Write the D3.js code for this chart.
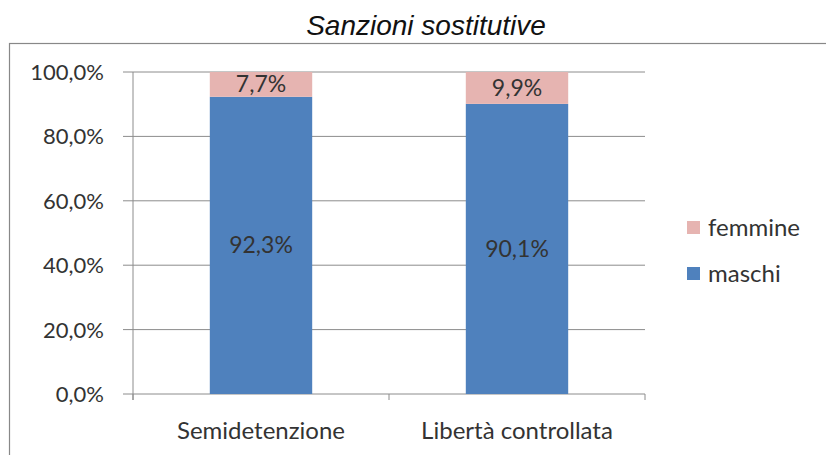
<!DOCTYPE html>
<html><head><meta charset="utf-8">
<script src="https://cdn.jsdelivr.net/npm/d3@7"></script>
<style>body{margin:0;background:#fff}</style>
</head><body>
<svg id="c" width="826" height="455"></svg>
<script>
const categories = ["Semidetenzione", "Libertà controllata"];
const maschi = [92.3, 90.1];
const femmine = [7.7, 9.9];
const seriesNames = ["maschi", "femmine"];
const yTicks = [0, 20, 40, 60, 80, 100];
const colors = {maschi: "#4F81BD", femmine: "#E6B4B1"};
const fmt = v => d3.format(".1f")(v).replace(".", ",") + "%";

const svg = d3.select("#c");
const font = "Lato, 'Open Sans', sans-serif";

// border
svg.append("rect").attr("x", 9.5).attr("y", 43.5).attr("width", 830).attr("height", 420)
  .attr("fill", "none").attr("stroke", "#888").attr("stroke-width", 1.2);

svg.append("text").attr("x", 426).attr("y", 35).attr("text-anchor", "middle")
  .attr("font-family", "'Liberation Sans', Arial, sans-serif").attr("font-style", "italic")
  .attr("font-size", 28).attr("fill", "#111").text("Sanzioni sostitutive");

const x0 = 133, x1 = 645, yTop = 72, yBot = 394;
const x = d3.scaleBand().domain(categories).range([x0, x1]).paddingInner(0.6).paddingOuter(0.3);
const y = d3.scaleLinear().domain([0, 100]).range([yBot, yTop]);

// gridlines
const g = svg.append("g");
g.selectAll("line.grid").data(yTicks).join("line")
  .attr("x1", x0 - 10).attr("x2", x1).attr("y1", d => y(d)).attr("y2", d => y(d))
  .attr("stroke", "#8c8c8c").attr("stroke-width", 1);
// y axis line
g.append("line").attr("x1", x0).attr("x2", x0).attr("y1", yTop).attr("y2", yBot + 6)
  .attr("stroke", "#8c8c8c");
// category boundary ticks
const bounds = [x0, (x0 + x1) / 2, x1];
g.selectAll("line.ct").data(bounds).join("line")
  .attr("x1", d => d).attr("x2", d => d).attr("y1", yBot).attr("y2", yBot + 6)
  .attr("stroke", "#8c8c8c");

// y tick labels
svg.selectAll("text.yt").data(yTicks).join("text")
  .attr("x", 104).attr("y", d => y(d) + 8).attr("text-anchor", "end")
  .attr("font-family", font).attr("font-size", 22).attr("fill", "#333").text(d => fmt(d));

// bars
const stackData = categories.map((c, i) => ({cat: c, maschi: maschi[i], femmine: femmine[i]}));
const stack = d3.stack().keys(seriesNames)(stackData);
svg.append("g").selectAll("g").data(stack).join("g")
  .attr("fill", d => colors[d.key])
  .selectAll("rect").data(d => d).join("rect")
  .attr("x", d => x(d.data.cat)).attr("width", x.bandwidth())
  .attr("y", d => y(d[1])).attr("height", d => y(d[0]) - y(d[1]));

// value labels
stack.forEach(s => {
  svg.append("g").selectAll("text").data(s).join("text")
    .attr("x", d => x(d.data.cat) + x.bandwidth() / 2)
    .attr("y", d => (y(d[0]) + y(d[1])) / 2 + 8)
    .attr("text-anchor", "middle").attr("font-family", font).attr("font-size", 23)
    .attr("fill", "#333").text(d => fmt(d.data[s.key]));
});

// category labels
svg.selectAll("text.cat").data(categories).join("text")
  .attr("x", d => x(d) + x.bandwidth() / 2).attr("y", 439).attr("text-anchor", "middle")
  .attr("font-family", font).attr("font-size", 24).attr("fill", "#333").text(d => d);

// legend
const legendItems = ["femmine", "maschi"];
const lg = svg.append("g").selectAll("g").data(legendItems).join("g")
  .attr("transform", (d, i) => `translate(687, ${221 + i * 46})`);
lg.append("rect").attr("width", 13).attr("height", 13).attr("fill", d => colors[d]);
lg.append("text").attr("x", 21).attr("y", 15).attr("font-family", font).attr("font-size", 24)
  .attr("fill", "#333").text(d => d);
</script>
</body></html>
